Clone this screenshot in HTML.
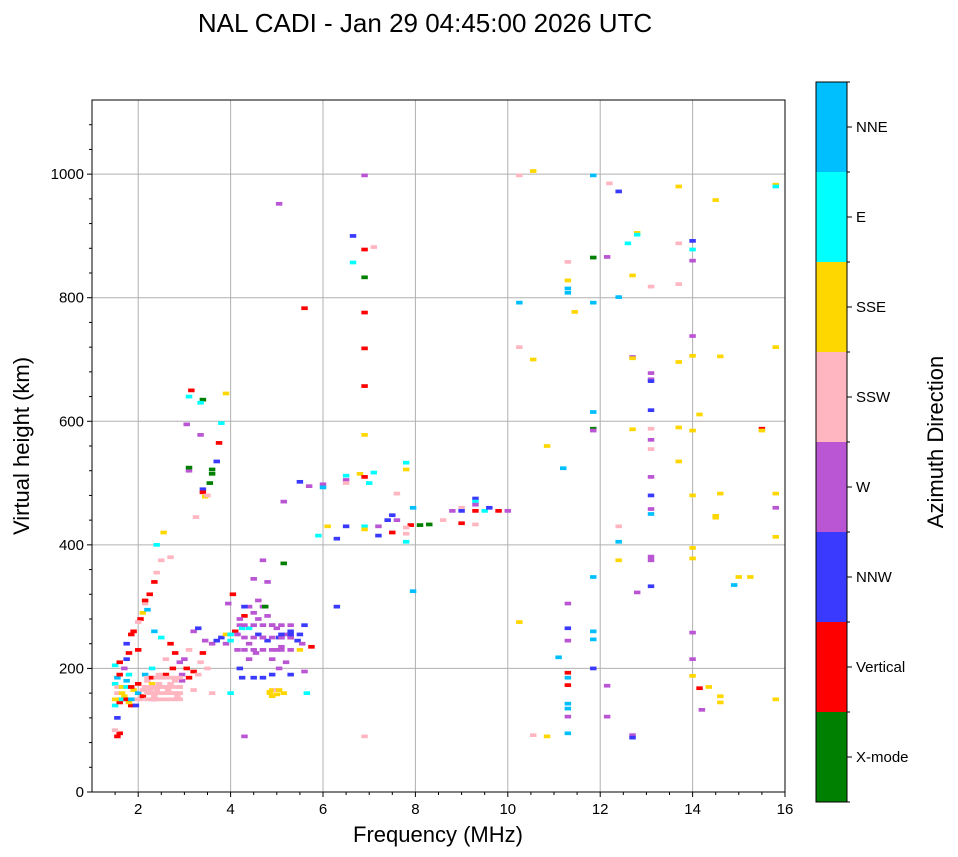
<!DOCTYPE html>
<html><head><meta charset="utf-8"><style>
body{margin:0;background:#fff;}
svg{display:block;font-family:"Liberation Sans",sans-serif;}
</style></head><body>
<svg id="chart" width="958" height="857">
<text x="425" y="32" font-size="26" text-anchor="middle">NAL CADI - Jan 29 04:45:00 2026 UTC</text>
<g id="grid"></g>
<g id="marks"></g>
<rect x="92" y="100" width="693" height="692" fill="none" stroke="#000" stroke-width="1"/>
<g id="axes"></g>
<text x="438" y="842" font-size="22" text-anchor="middle">Frequency (MHz)</text>
<text transform="translate(29,446) rotate(-90)" font-size="22" text-anchor="middle">Virtual height (km)</text>
<g id="cbar"></g>
<text transform="translate(943,442) rotate(-90)" font-size="22" text-anchor="middle">Azimuth Direction</text>
</svg>
<script>
const dirNames=["X-mode","Vertical","NNW","W","SSW","SSE","E","NNE"];
const dirColors=["#008000","#ff0000","#3a3aff","#ba55d3","#ffb6c1","#ffd700","#00ffff","#00bfff"];
const xTicks=[2,4,6,8,10,12,14,16];
const yTicks=[0,200,400,600,800,1000];
const freqs=[10.25,10.55,11.85,12.2,12.4,12.8,12.8,13.7,14.5,15.8,15.8,14,14,14,12.6,13.7,12.15,11.85,11.3,12.7,11.3,11.3,11.3,13.1,13.7,12.4,11.85,10.25,11.45,14,10.25,15.8,10.55,12.7,12.7,14,14.6,13.7,13.1,13.1,13.1,11.85,13.1,14.15,11.85,11.85,12.7,13.1,13.7,14,15.5,15.5,13.1,13.1,10.85,13.7,11.2,13.1,13.1,14,14.6,15.8,13.1,13.1,15.8,14.5,14.5,12.4,12.4,12.4,13.1,13.1,14,14,15.8,11.85,15,15.25,14.9,13.1,12.8,11.3,10.25,11.3,14,11.85,11.85,11.3,11.1,14,11.85,14,11.3,11.3,11.3,12.15,14.35,14.15,14.6,14.6,15.8,14.2,11.3,11.3,11.3,12.15,11.3,10.55,10.85,12.7,12.7,
6,6,6.5,6.5,6.5,6.8,6.9,7.1,7,7.8,7.8,7.6,7.95,8.6,8.8,9,9.3,9.3,9.3,9,9.3,9.5,9.8,9.6,10,9,9.3,8.1,7.9,8.3,7.6,7.4,7.5,7.8,7.8,7.8,7.5,7.2,7.2,6.9,6.9,6.5,6.3,6.1,5.9,6.9,6.9,6.9,6.9,6.9,6.9,7.1,6.65,6.65,5.6,6.9,6.9,6.3,5.7,5.5,5.15,7.95,5.05,
1.55,1.6,1.5,1.55,1.5,1.5,1.6,1.55,1.65,1.7,1.6,1.5,1.55,1.6,1.5,1.6,1.7,1.75,1.8,1.75,1.85,1.9,1.8,1.75,1.85,1.9,1.95,1.85,1.95,1.8,2.0,2.0,2.05,2.1,2.15,2.2,2.25,2.3,2.35,2.4,2.5,2.6,2.7,2.8,2.9,2.5,2.6,2.75,2.3,2.15,2.0,2.05,2.0,2.1,2.15,2.25,2.35,2.4,2.4,2.55,2.5,2.7,2.7,2.5,2.35,2.2,2.15,2.6,2.8,2.9,3.0,3.05,3.1,3.2,3.3,3.35,3.4,3.5,3.6,3.2,2.95,3.1,3.2,3.3,3.45,3.6,3.7,3.8,3.9,4.0,4.1,4.15,4.2,4.25,4.3,4.4,4.3,4.5,4.6,4.7,4.8,4.9,5.0,5.1,5.2,5.3,5.45,5.55,5.6,5.0,5.1,4.8,4.7,4.55,4.4,4.2,4.25,4.5,4.7,4.9,5.05,5.3,5.6,5.2,4.9,4.6,4.8,4.5,4.7,5.15,4.75,4.05,3.95,4.2,4.4,4.15,3.9,5.5,4.9,4.85,5.0,5.15,5.65,4.0,4.3,4.0,4.4,4.6,5.05,5.3,5.75,
3.1,3.15,3.4,3.35,3.9,3.05,3.35,3.8,3.75,3.1,3.1,3.7,3.4,3.45,3.55,3.6,3.6,3.4,3.5,3.25,2.4,2.3,2.2,2.45,2.65,2.8,2.85,2.55,2.45,2.25,2.1,2.95,2.35];
const heights=[998,1005,998,985,972,905,902,980,958,983,980,892,878,860,888,888,866,865,858,836,828,815,808,818,822,801,792,792,777,738,720,720,700,704,702,706,705,696,678,668,665,615,618,611,588,585,587,588,590,585,588,585,570,555,560,535,524,510,480,480,483,483,458,450,460,447,444,430,405,375,381,375,395,378,413,348,348,348,335,333,323,305,275,265,258,260,247,245,218,215,200,188,193,185,173,172,170,168,155,145,150,133,143,135,122,122,95,92,90,92,88,
498,493,512,505,500,515,510,517,500,533,522,483,460,440,455,460,475,470,465,455,455,455,455,460,455,435,433,432,432,433,440,440,420,418,405,428,448,430,415,430,425,430,410,430,415,578,657,718,776,833,878,882,900,857,783,998,90,300,495,502,470,325,952,
90,95,100,120,140,150,145,160,160,155,170,175,185,190,205,210,200,215,225,240,255,260,190,180,170,165,150,140,140,145,175,160,150,155,170,180,165,175,155,165,170,170,175,180,170,185,190,200,200,190,230,280,275,290,305,320,340,355,400,420,375,380,240,250,260,295,310,215,225,210,215,200,185,195,190,210,225,200,160,165,180,230,260,265,245,240,245,250,240,245,260,255,270,265,285,300,300,290,280,300,285,270,265,250,255,260,245,240,270,230,235,245,250,225,215,200,185,185,185,190,200,190,195,210,215,310,340,345,375,370,300,320,305,280,240,230,255,230,165,160,165,160,160,160,90,255,265,255,250,250,235,
640,650,635,630,645,595,578,597,565,520,525,535,490,478,500,515,522,485,480,445,160,150,165,175,165,160,155,170,190,185,165,190,150];
const dirs=[4,5,7,4,2,5,6,5,5,5,6,2,6,3,6,4,3,0,4,5,5,7,7,4,4,7,7,7,5,3,4,5,5,3,5,5,5,5,3,3,2,7,2,5,0,3,5,4,5,5,1,5,3,4,5,5,7,3,2,5,5,5,3,7,3,5,5,4,7,5,3,3,5,5,5,7,5,5,7,2,3,3,5,2,3,7,7,3,7,3,2,5,1,7,1,3,5,1,5,5,5,3,7,7,3,3,7,4,5,3,2,
3,7,6,3,4,5,1,6,6,6,5,4,7,4,3,4,2,6,3,2,1,6,1,2,3,1,4,0,1,0,3,2,1,4,6,4,2,3,2,6,5,2,2,5,6,5,1,1,1,0,1,4,2,6,1,3,4,2,3,2,3,7,3,
1,1,4,2,6,5,1,4,5,5,6,6,7,1,6,1,3,2,1,2,1,1,6,7,5,5,4,1,2,5,1,7,4,1,4,4,4,5,4,4,4,4,4,4,4,4,1,1,6,7,1,1,4,5,4,1,1,4,6,5,4,4,1,6,7,7,1,4,1,3,3,1,1,1,4,4,1,4,4,4,3,4,3,2,3,3,2,2,3,6,1,3,3,6,1,3,2,3,3,3,3,3,3,2,3,2,2,3,2,3,3,2,3,3,3,2,2,2,2,2,3,2,3,3,3,3,3,3,3,0,0,1,3,3,3,3,5,5,5,5,4,5,6,6,3,6,6,2,2,
1,1,6,1,0,6,5,3,3,6,1,3,0,2,2,5,0,0,0,1,4,4,4,4,4,4,4,4,4,4,4,4,4];
// denser low-frequency clusters
const clusterFreqs=[
2.2,2.3,2.4,2.5,2.6,2.7,2.8,2.9,
2.2,2.3,2.4,2.5,2.6,2.7,2.8,2.9,
2.2,2.3,2.4,2.5,2.6,2.7,2.8,2.9,
2.2,2.3,2.4,2.5,2.6,2.7,2.8,2.9,
4.3,4.5,4.7,4.9,5.1,5.3,
4.3,4.5,4.7,4.9,5.1,5.3,
4.3,4.5,4.7,4.9,5.1,5.3,
5.1,5.3,5.5,
4.9,5.0,4.85,5.05,
1.55,1.65,1.75,1.85,1.55,1.65,1.75,1.85];
const clusterHeights=[
150,150,150,150,150,150,150,150,
160,160,160,160,160,160,160,160,
170,170,170,170,170,170,170,170,
185,185,185,185,185,185,185,185,
230,230,230,230,230,230,
250,250,250,250,250,250,
270,270,270,270,270,270,
255,255,255,
155,158,162,165,
150,150,150,150,170,170,170,170];
const clusterDirs=[
4,4,4,4,4,4,4,4,
4,4,4,4,4,4,4,4,
4,4,4,4,4,4,4,4,
4,1,4,4,4,4,4,4,
3,3,3,3,3,3,
3,3,3,3,3,3,
3,3,3,3,3,3,
2,2,2,
5,5,5,5,
5,6,1,7,4,5,6,1];
const X0=92,X1=785,Y0=792,Y1=100;
const xs=f=>X0+(f-1)/(16-1)*(X1-X0);
const ys=h=>Y0-(h-0)/(1120-0)*(Y0-Y1);
const NS="http://www.w3.org/2000/svg";
function mk(t,a,p){const e=document.createElementNS(NS,t);for(const k in a)e.setAttribute(k,a[k]);p.appendChild(e);return e;}
const grid=document.getElementById('grid'),axes=document.getElementById('axes'),marks=document.getElementById('marks'),cbar=document.getElementById('cbar');
const CX=816,CW=31,CT=82,CB=802,seg=(CB-CT)/dirNames.length;
dirNames.forEach((n,i)=>{const y=CB-(i+1)*seg;
 const r=mk('rect',{x:CX,y:y,width:CW,height:seg,fill:dirColors[i]},cbar);
 
 
 mk('line',{x1:CX+CW,x2:CX+CW+5,y1:y+seg/2,y2:y+seg/2,stroke:'#000'},cbar);
 const l=mk('text',{x:CX+CW+9,y:y+seg/2+5,'font-size':15},cbar);l.textContent=n;
 
 });
for(let i=0;i<=dirNames.length;i++){const y=CB-i*seg;mk('line',{x1:CX+CW,x2:CX+CW+3,y1:y,y2:y,stroke:'#000'},cbar);}
mk('rect',{x:CX,y:CT,width:CW,height:CB-CT,fill:'none',stroke:'#000'},cbar);
xTicks.forEach(t=>{const x=xs(t);
 if(t<16){const g=mk('line',{x1:x,x2:x,y1:Y1,y2:Y0,stroke:'#b0b0b0','stroke-width':1},grid);
 
 }
 mk('line',{x1:x,x2:x,y1:Y0,y2:Y0+5,stroke:'#000'},axes);
 const l=mk('text',{x:x,y:Y0+22,'font-size':15,'text-anchor':'middle'},axes);l.textContent=t;
 
 });
for(let f=1.5;f<16;f+=0.5){if(f%2===0)continue;const x=xs(f);mk('line',{x1:x,x2:x,y1:Y0,y2:Y0+3,stroke:'#000'},axes);}
yTicks.forEach(t=>{const y=ys(t);
 if(t>0){const g=mk('line',{x1:X0,x2:X1,y1:y,y2:y,stroke:'#b0b0b0','stroke-width':1},grid);
 
 }
 mk('line',{x1:X0-5,x2:X0,y1:y,y2:y,stroke:'#000'},axes);
 const l=mk('text',{x:X0-8,y:y+5,'font-size':15,'text-anchor':'end'},axes);l.textContent=t;
 
 });
for(let h=40;h<1120;h+=40){if(h%200===0)continue;const y=ys(h);mk('line',{x1:X0-3,x2:X0,y1:y,y2:y,stroke:'#000'},axes);}
function drawEcho(f,hk,d){
 const x=xs(f-0.07),w=xs(f+0.07)-x,y=ys(hk+3),h=ys(hk-3)-y;
 const r=mk('rect',{x:x,y:y,width:w,height:h,fill:dirColors[d]},marks);
 
 
}
const N=Math.min(freqs.length,heights.length);
for(let i=0;i<N;i++){drawEcho(freqs[i],heights[i],(dirs[i]===undefined)?3:dirs[i]);}
const M=Math.min(clusterFreqs.length,clusterHeights.length);
for(let i=0;i<M;i++){drawEcho(clusterFreqs[i],clusterHeights[i],(clusterDirs[i]===undefined)?4:clusterDirs[i]);}
</script>
</body></html>
